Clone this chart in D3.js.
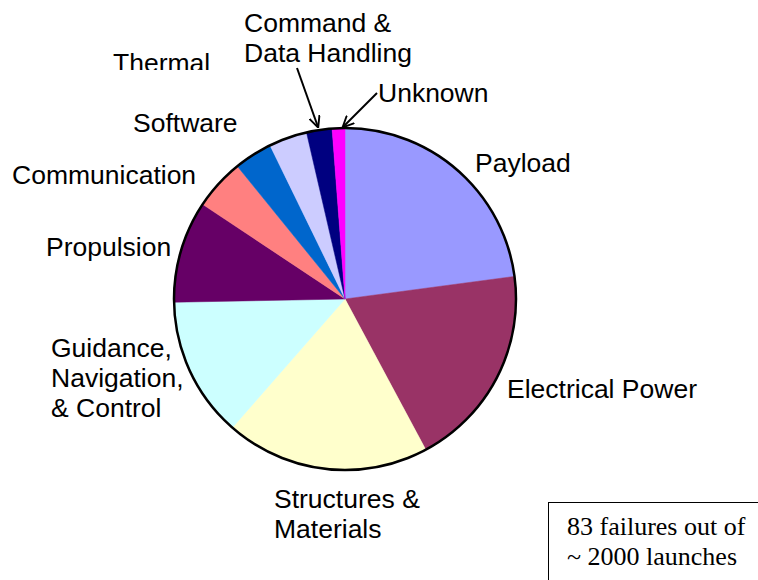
<!DOCTYPE html>
<html>
<head>
<meta charset="utf-8">
<script src="https://cdn.jsdelivr.net/npm/d3@7"></script>
<style>
  body { margin: 0; background: #fff; }
  svg { display: block; }
</style>
</head>
<body>
<svg id="chart" width="758" height="580"></svg>
<script>
// failure causes, clockwise from 12 o'clock
const categories = ["Payload", "Electrical Power", "Structures & Materials", "Guidance, Navigation, & Control",
  "Propulsion", "Communication", "Software", "Thermal", "Command & Data Handling", "Unknown"]
const failures = [19, 16, 16, 11, 8, 4, 3, 3, 2, 1]
const colors = ["#9999FF", "#993366", "#FFFFCC", "#CCFFFF", "#660066", "#FF8080", "#0066CC", "#CCCCFF", "#000080", "#FF00FF"]
const noteLines = ["83 failures out of", "~ 2000 launches"]

// label placement (x of first char, baseline of first line)
const labelLayout = {
  "Payload": { x: 475, y: 172, lines: ["Payload"] },
  "Electrical Power": { x: 507, y: 398, lines: ["Electrical Power"] },
  "Structures & Materials": { x: 274, y: 508, lines: ["Structures &", "Materials"] },
  "Guidance, Navigation, & Control": { x: 51, y: 357, lines: ["Guidance,", "Navigation,", "& Control"] },
  "Propulsion": { x: 46, y: 256, lines: ["Propulsion"] },
  "Communication": { x: 12, y: 184, lines: ["Communication"] },
  "Software": { x: 133, y: 132, lines: ["Software"] },
  "Thermal": { x: 113, y: 72, lines: ["Thermal"], clip: 70 },
  "Command & Data Handling": { x: 244, y: 32, lines: ["Command &", "Data Handling"] },
  "Unknown": { x: 378, y: 102, lines: ["Unknown"] }
}
const arrows = [
  { from: [297, 68], to: [318, 127] },
  { from: [377, 93], to: [343, 127] }
]

const svg = d3.select('#chart')
const cx = 345, cy = 299, radius = 171

svg.append("defs").append("marker")
  .attr("id", "arrowhead")
  .attr("viewBox", "0 0 10 10")
  .attr("refX", 9).attr("refY", 5)
  .attr("markerWidth", 12).attr("markerHeight", 12)
  .attr("markerUnits", "userSpaceOnUse")
  .attr("orient", "auto")
  .append("path")
  .attr("d", "M0,0.5 L9.5,5 L0,9.5")
  .style("fill", "none").style("stroke", "black").style("stroke-width", 1.6)

svg.select("defs").append("clipPath").attr("id", "thermalClip")
  .append("rect").attr("x", 0).attr("y", 0).attr("width", 758).attr("height", labelLayout["Thermal"].clip)

const pie = d3.pie().sort(null).value(d => d)
const arc = d3.arc().innerRadius(0).outerRadius(radius)

const g = svg.append("g").attr("transform", "translate(" + cx + "," + cy + ")")
g.selectAll("path.slice")
  .data(pie(failures))
  .join("path")
  .attr("class", "slice")
  .attr("d", arc)
  .style("fill", (d, i) => colors[i])
  .style("stroke", (d, i) => colors[i])
  .style("stroke-width", 0.5)

// outer rim
g.append("circle")
  .attr("r", radius)
  .style("fill", "none")
  .style("stroke", "black")
  .style("stroke-width", 2.5)

// labels
categories.forEach(c => {
  const L = labelLayout[c]
  const t = svg.append("text")
    .attr("x", L.x).attr("y", L.y)
    .style("font-family", "Arial, 'Liberation Sans', sans-serif")
    .style("font-size", "26.5px")
    .style("fill", "black")
  if (L.clip) t.attr("clip-path", "url(#thermalClip)")
  L.lines.forEach((line, i) => {
    t.append("tspan").attr("x", L.x).attr("dy", i === 0 ? 0 : 30).text(line)
  })
})

svg.selectAll("line.arrow")
  .data(arrows)
  .join("line")
  .attr("class", "arrow")
  .attr("x1", d => d.from[0]).attr("y1", d => d.from[1])
  .attr("x2", d => d.to[0]).attr("y2", d => d.to[1])
  .style("stroke", "black").style("stroke-width", 2)
  .attr("marker-end", "url(#arrowhead)")

// note box in the corner
svg.append("rect")
  .attr("x", 548.5).attr("y", 502.5)
  .attr("width", 230).attr("height", 100)
  .style("fill", "white").style("stroke", "black").style("stroke-width", 1)

svg.selectAll("text.note")
  .data(noteLines)
  .join("text")
  .attr("class", "note")
  .attr("x", 567)
  .attr("y", (d, i) => 535 + i * 30)
  .style("font-family", "'Times New Roman', 'Liberation Serif', serif")
  .style("font-size", "26px")
  .text(d => d)
</script>
</body>
</html>
